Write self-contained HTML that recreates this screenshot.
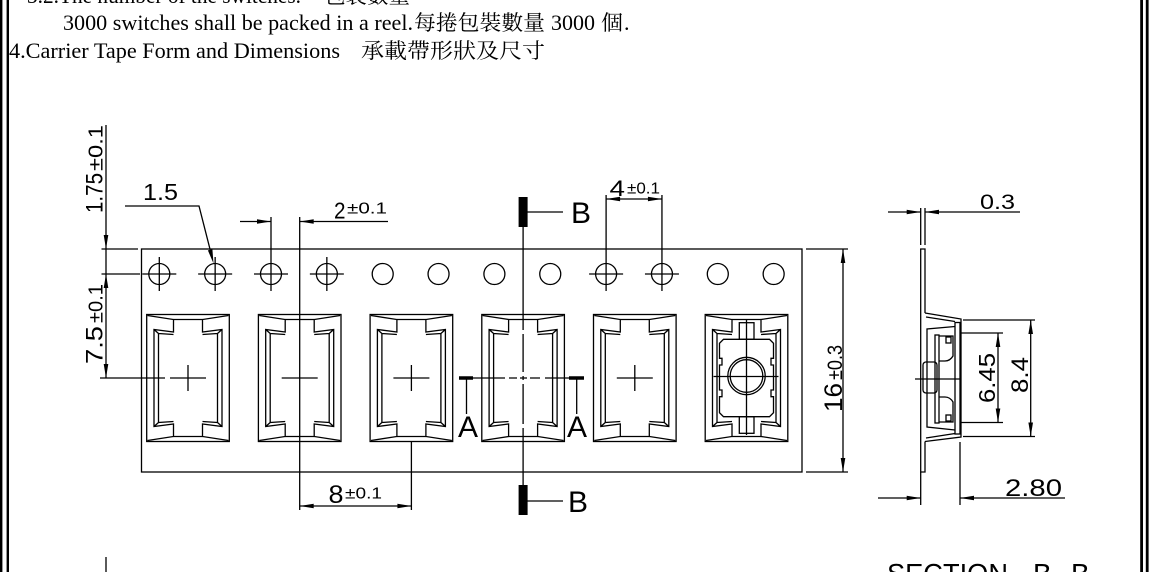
<!DOCTYPE html>
<html><head><meta charset="utf-8">
<style>
html,body{margin:0;padding:0;background:#fff;overflow:hidden;}
svg{display:block;}
.t{font-family:"Liberation Serif","Noto Serif CJK SC",serif;font-size:22px;fill:#000;}
.c{font-family:"Noto Serif CJK SC","Liberation Serif",serif;font-size:21px;fill:#000;}
.d{font-family:"Liberation Sans",sans-serif;fill:#000;}
</style></head><body>
<svg width="1150" height="572" viewBox="0 0 1150 572" xmlns="http://www.w3.org/2000/svg" xmlns:xlink="http://www.w3.org/1999/xlink">
<defs>
  <g id="pkh">
    <path d="M-40.5,-62.5 L-14.5,-58.5 L-14.5,-46 L-34,-48.5 L-34,48.5 L-14.5,46 L-14.5,58.5 L-40.5,62.5 M-29.5,-44.5 L-29.5,44.5 M-34,-48.5 L-29.5,-44.5 M-34,48.5 L-29.5,44.5 M-29.5,-44.5 L-14.5,-43.5 M-29.5,44.5 L-14.5,43.5"/>
  </g>
  <g id="pk" fill="none" stroke="#000" stroke-width="1.3">
    <rect x="-41.3" y="-63.5" width="82.6" height="127"/>
    <use href="#pkh" xlink:href="#pkh"/>
    <use href="#pkh" xlink:href="#pkh" transform="scale(-1,1)"/>
    <path d="M-14.5,-58.5 L14.5,-58.5 M-14.5,58.5 L14.5,58.5"/>
  </g>
</defs>

<!-- borders -->
<rect x="0" y="0" width="2.4" height="572" fill="#000"/>
<rect x="6.6" y="0" width="2.4" height="572" fill="#000"/>
<rect x="1140.2" y="0" width="2.8" height="572" fill="#000"/>
<rect x="1145.8" y="0" width="2.8" height="572" fill="#000"/>

<!-- header text -->
<text class="t" x="27" y="3" textLength="274" lengthAdjust="spacingAndGlyphs">3.2.The number of the switches.</text>
<text class="c" x="324" y="3" textLength="86" lengthAdjust="spacingAndGlyphs">包裝數量</text>
<text class="t" x="63" y="30" textLength="350" lengthAdjust="spacingAndGlyphs">3000 switches shall be packed in a reel.</text>
<text class="c" x="414" y="30" textLength="131" lengthAdjust="spacingAndGlyphs">每捲包裝數量</text>
<text class="t" x="551" y="30" textLength="44" lengthAdjust="spacingAndGlyphs">3000</text>
<text class="c" x="601" y="30" textLength="22" lengthAdjust="spacingAndGlyphs">個</text>
<text class="t" x="624" y="30">.</text>
<text class="t" x="9" y="58" textLength="331" lengthAdjust="spacingAndGlyphs">4.Carrier Tape Form and Dimensions</text>
<text class="c" x="361" y="58" textLength="184" lengthAdjust="spacingAndGlyphs">承載帶形狀及尺寸</text>

<g fill="none" stroke="#000" stroke-width="1.3">
  <!-- tape -->
  <rect x="141.5" y="249" width="660.5" height="223"/>
  <!-- sprocket holes -->
  <circle cx="159.3" cy="274" r="10.5"/>
  <circle cx="215.15" cy="274" r="10.5"/>
  <circle cx="271" cy="274" r="10.5"/>
  <circle cx="326.85" cy="274" r="10.5"/>
  <circle cx="382.7" cy="274" r="10.5"/>
  <circle cx="438.55" cy="274" r="10.5"/>
  <circle cx="494.4" cy="274" r="10.5"/>
  <circle cx="550.25" cy="274" r="10.5"/>
  <circle cx="606.1" cy="274" r="10.5"/>
  <circle cx="661.95" cy="274" r="10.5"/>
  <circle cx="717.8" cy="274" r="10.5"/>
  <circle cx="773.65" cy="274" r="10.5"/>
  <!-- crosshairs -->
  <path d="M142.3,274 L176.3,274 M159.3,257 L159.3,291
           M198.15,274 L232.15,274 M215.15,257 L215.15,291
           M254,274 L288,274 M271,217 L271,291
           M309.85,274 L343.85,274 M326.85,257 L326.85,291
           M589.1,274 L623.1,274 M606.1,195 L606.1,291
           M644.95,274 L678.95,274 M661.95,195 L661.95,291"/>

  <!-- left dims -->
  <path d="M106,125 L106,378 M101.5,249 L138,249 M101.5,274 L140,274 M100,378 L165,378"/>
  <!-- 1.5 leader -->
  <path d="M125,206 L199,206 L212,257"/>
  <!-- 2±0.1 -->
  <path d="M240,221.5 L271,221.5 M299.7,221.5 L388,221.5 M299.7,217 L299.7,510"/>
  <!-- 4±0.1 -->
  <path d="M606.1,199 L661.95,199"/>
  <!-- 8±0.1 -->
  <path d="M411.4,442 L411.4,510 M299.7,506 L411.4,506"/>
  <!-- 16±0.3 -->
  <path d="M806,249 L848,249 M806,472 L848,472 M843,249 L843,472"/>

  <!-- pockets -->
  <use href="#pk" xlink:href="#pk" x="188" y="378"/>
  <use href="#pk" xlink:href="#pk" x="299.7" y="378"/>
  <use href="#pk" xlink:href="#pk" x="411.4" y="378"/>
  <use href="#pk" xlink:href="#pk" x="523.1" y="378"/>
  <use href="#pk" xlink:href="#pk" x="634.8" y="378"/>
  <use href="#pk" xlink:href="#pk" x="746.5" y="378"/>
  <!-- pocket crosses -->
  <path d="M170,378 L206,378 M188,365 L188,391
           M281.7,378 L317.7,378
           M393.4,378 L429.4,378 M411.4,365 L411.4,391
           M616.8,378 L652.8,378 M634.8,365 L634.8,391"/>

  <!-- pocket 4 center lines -->
  <path d="M523.1,212 L523.1,330 M523.1,334 L523.1,372 M523.1,376 L523.1,380 M523.1,384 L523.1,424 M523.1,428 L523.1,500"/>
  <path d="M466,378 L505,378 M509,378 L517,378 M520,378 L527,378 M530,378 L540,378 M545,378 L577,378"/>
  <path d="M466.5,378 L466.5,414 M576.7,378 L576.7,414"/>
  <path d="M527,212 L563,212 M527,501 L563,501"/>

  <!-- pocket 6 component -->
  <g transform="translate(746.5,378)">
    <rect x="-7.2" y="-55.3" width="14.7" height="16.6"/>
    <rect x="-7.2" y="38.7" width="14.7" height="16.6"/>
    <path d="M-23,-38.7 L23,-38.7 L27,-34.7 L27,-19.7 L24.5,-19.7 L24.5,-13 L27,-13 L27,12 L24.5,12 L24.5,18.7 L27,18.7 L27,34.7 L23,38.7 L-23,38.7 L-27,34.7 L-27,18.7 L-24.5,18.7 L-24.5,12 L-27,12 L-27,-13 L-24.5,-13 L-24.5,-19.7 L-27,-19.7 L-27,-34.7 Z"/>
    <circle cx="0" cy="-2" r="18.7"/>
    <circle cx="0" cy="-2" r="16.3"/>
    <path d="M-33,-1.5 L32,-1.5 M0,-58 L0,57"/>
  </g>

  <!-- section view -->
  <path d="M925,313 L925,249 L920.7,249 L920.7,472 L925,472 L925,441.5"/>
  <path d="M925,313 L961,319 L961,437 L925,441.5"/>
  <path d="M926,317 L955,321.5 M926,438 L955,433.5"/>
  <path d="M955,326.5 L927,329 L927,427 L955,430"/>
  <rect x="955" y="322.5" width="5" height="111.5"/>
  <rect x="935" y="335" width="4" height="88"/>
  <path d="M939,336 L953,336 L953,356 Q950,361 945,361 L939,361 M939,422 L953,422 L953,402 Q950,397 945,397 L939,397"/>
  <rect x="946" y="337" width="5" height="6"/>
  <rect x="946" y="415" width="5" height="6"/>
  <rect x="923" y="362" width="14" height="31" rx="3"/>
  <path d="M915,379 L960,379"/>
  <!-- 0.3 -->
  <path d="M920.7,208 L920.7,245 M925,208 L925,245 M888,212 L920.7,212 M925,212 L1020,212"/>
  <!-- 2.80 -->
  <path d="M920.7,472 L920.7,505 M960,442 L960,505 M878,498 L920.7,498 M960,498 L1065,498"/>
  <!-- 8.4 -->
  <path d="M963,320 L1035,320 M963,436.5 L1035,436.5 M1030.7,320 L1030.7,436.5"/>
  <!-- 6.45 -->
  <path d="M960,333 L1003,333 M960,422.5 L1003,422.5 M998,333 L998,422.5"/>

  <!-- bottom-left stub -->
  <path d="M106,557 L106,572"/>
</g>

<!-- thick markers -->
<rect x="518.6" y="197" width="9" height="30" fill="#000"/>
<rect x="518.6" y="485" width="9" height="30" fill="#000"/>
<path d="M459,378 L473,378 M569,378 L584,378" stroke="#000" stroke-width="3.6"/>

<!-- arrows -->
<g fill="#000">
  <polygon points="106,249 103.7,235 108.3,235"/>
  <polygon points="106,274 103.7,288 108.3,288"/>
  <polygon points="106,378 103.7,364 108.3,364"/>
  <polygon points="213.5,263.5 207.9,250.4 212.4,249.3"/>
  <polygon points="271,221.5 257,219.2 257,223.8"/>
  <polygon points="299.7,221.5 313.7,219.2 313.7,223.8"/>
  <polygon points="606.1,199 620.1,196.7 620.1,201.3"/>
  <polygon points="661.95,199 647.95,196.7 647.95,201.3"/>
  <polygon points="299.7,506 313.7,503.7 313.7,508.3"/>
  <polygon points="411.4,506 397.4,503.7 397.4,508.3"/>
  <polygon points="843,249 840.7,263 845.3,263"/>
  <polygon points="843,472 840.7,458 845.3,458"/>
  <polygon points="920.7,212 906.7,209.7 906.7,214.3"/>
  <polygon points="925,212 939,209.7 939,214.3"/>
  <polygon points="920.7,498 906.7,495.7 906.7,500.3"/>
  <polygon points="960,498 974,495.7 974,500.3"/>
  <polygon points="1030.7,320 1028.4,334 1033,334"/>
  <polygon points="1030.7,436.5 1028.4,422.5 1033,422.5"/>
  <polygon points="998,333 995.7,347 1000.3,347"/>
  <polygon points="998,422.5 995.7,408.5 1000.3,408.5"/>
</g>

<!-- drawing labels -->
<g class="d">
  <text transform="translate(102.5,213) rotate(-90)" font-size="24" textLength="40" lengthAdjust="spacingAndGlyphs">1.75</text>
  <text transform="translate(102.5,171) rotate(-90)" font-size="20" textLength="46" lengthAdjust="spacingAndGlyphs">±0.1</text>
  <text transform="translate(102.5,364) rotate(-90)" font-size="24" textLength="38" lengthAdjust="spacingAndGlyphs">7.5</text>
  <text transform="translate(102.5,323) rotate(-90)" font-size="20" textLength="39" lengthAdjust="spacingAndGlyphs">±0.1</text>

  <text x="143" y="200" font-size="23" textLength="35" lengthAdjust="spacingAndGlyphs">1.5</text>

  <text x="334" y="218.5" font-size="23" textLength="11.5" lengthAdjust="spacingAndGlyphs">2</text>
  <text x="347" y="213.5" font-size="16" textLength="40" lengthAdjust="spacingAndGlyphs">±0.1</text>

  <text x="609.5" y="196" font-size="22" textLength="15.5" lengthAdjust="spacingAndGlyphs">4</text>
  <text x="627" y="193.5" font-size="16" textLength="33" lengthAdjust="spacingAndGlyphs">±0.1</text>

  <text x="328.5" y="503" font-size="25" textLength="15" lengthAdjust="spacingAndGlyphs">8</text>
  <text x="345" y="498.5" font-size="16" textLength="37" lengthAdjust="spacingAndGlyphs">±0.1</text>

  <text x="571" y="223" font-size="30">B</text>
  <text x="568" y="512" font-size="30">B</text>
  <text x="458" y="437" font-size="30">A</text>
  <text x="567" y="437" font-size="30">A</text>

  <text transform="translate(842,412) rotate(-90)" font-size="25" textLength="29" lengthAdjust="spacingAndGlyphs">16</text>
  <text transform="translate(842,380) rotate(-90)" font-size="21" textLength="35" lengthAdjust="spacingAndGlyphs">±0.3</text>

  <text x="980" y="209" font-size="21" textLength="35" lengthAdjust="spacingAndGlyphs">0.3</text>
  <text x="1005" y="496" font-size="24" textLength="57" lengthAdjust="spacingAndGlyphs">2.80</text>
  <text transform="translate(995,403) rotate(-90)" font-size="23" textLength="50" lengthAdjust="spacingAndGlyphs">6.45</text>
  <text transform="translate(1028,393) rotate(-90)" font-size="24" textLength="36" lengthAdjust="spacingAndGlyphs">8.4</text>

  <text x="887" y="583" font-size="28" textLength="121" lengthAdjust="spacingAndGlyphs">SECTION</text>
  <text x="1033" y="583" font-size="28">B</text>
  <text x="1055" y="583" font-size="28">-</text>
  <text x="1071" y="583" font-size="28">B</text>
</g>
</svg>
</body></html>
